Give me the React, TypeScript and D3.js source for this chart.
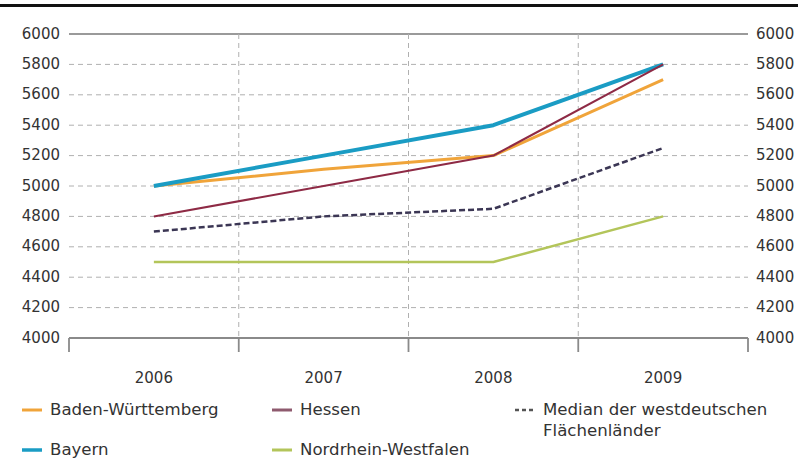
import React from "react";
import * as d3 from "d3";

const years = ["2006", "2007", "2008", "2009"];
const yTicks = [4000, 4200, 4400, 4600, 4800, 5000, 5200, 5400, 5600, 5800, 6000];
const badenWuerttemberg = [5000, 5110, 5200, 5700];
const bayern = [5000, 5200, 5400, 5800];
const hessen = [4800, 5000, 5200, 5800];
const nordrheinWestfalen = [4500, 4500, 4500, 4800];
const median = [4700, 4800, 4850, 5250];

const seriesNames = ["Baden-Württemberg", "Bayern", "Hessen", "Nordrhein-Westfalen", "Median der westdeutschen Flächenländer"];

const W = 798;
const H = 473;
const FONT = "'DejaVu Sans', sans-serif";

export default function App() {
  const x = d3.scaleBand<string>().domain(years).range([69, 748]).padding(0);
  const y = d3.scaleLinear().domain([4000, 6000]).range([338, 34]);
  const cx = (d: string) => (x(d) as number) + x.bandwidth() / 2;
  const line = d3
    .line<number>()
    .x((_, i) => cx(years[i]))
    .y((v) => y(v));

  const boundaries = [...years.map((d) => x(d) as number), 748];

  const series = [
    { name: seriesNames[3], data: nordrheinWestfalen, color: "#b3c55a", w: 2.5, dash: "" },
    { name: seriesNames[4], data: median, color: "#3b3654", w: 2.5, dash: "6,3" },
    { name: seriesNames[0], data: badenWuerttemberg, color: "#f0a43a", w: 3, dash: "" },
    { name: seriesNames[1], data: bayern, color: "#1a9cc4", w: 4, dash: "" },
    { name: seriesNames[2], data: hessen, color: "#8e2a45", w: 2, dash: "" },
  ];

  const legend = [
    { label: [seriesNames[0]], color: "#f0a43a", x: 22, y: 410, w: 3, dash: "" },
    { label: [seriesNames[2]], color: "#8e5a6e", x: 272, y: 410, w: 3, dash: "" },
    { label: ["Median der westdeutschen", "Flächenländer"], color: "#555", x: 515, y: 410, w: 2.5, dash: "4,3" },
    { label: [seriesNames[1]], color: "#1a9cc4", x: 22, y: 450, w: 3.5, dash: "" },
    { label: [seriesNames[3]], color: "#b3c55a", x: 272, y: 450, w: 3, dash: "" },
  ];

  return (
    <svg width={W} height={H} style={{ position: "absolute", left: 0, top: 0, background: "#fff" }} fontFamily={FONT}>
      <rect x={0} y={4} width={W} height={3} fill="#111" />
      {yTicks.map((t) => {
        if (t === 4000) return null;
        return (
          <line
            key={"g" + t}
            x1={69}
            x2={748}
            y1={y(t)}
            y2={y(t)}
            stroke={t === 6000 ? "#9a9a9a" : "#b0b0b0"}
            strokeWidth={t === 6000 ? 1.8 : 1}
            strokeDasharray={t === 6000 ? "" : "5,4"}
          />
        );
      })}
      {boundaries.slice(1, -1).map((b, i) => (
        <line key={"v" + i} x1={b} x2={b} y1={y(6000)} y2={y(4000)} stroke="#b0b0b0" strokeWidth={1} strokeDasharray="5,4" />
      ))}
      <line x1={69} x2={748} y1={y(4000)} y2={y(4000)} stroke="#8a8a8a" strokeWidth={1.8} />
      {boundaries.map((b, i) => (
        <line key={"t" + i} x1={b} x2={b} y1={y(4000)} y2={y(4000) + 14} stroke="#8a8a8a" strokeWidth={1.8} />
      ))}
      {years.map((d) => (
        <text key={d} x={cx(d)} y={378} textAnchor="middle" dominantBaseline="middle" fontSize={15} fill="#333">
          {d}
        </text>
      ))}
      {yTicks.map((t) => (
        <g key={"l" + t}>
          <text x={60} y={y(t)} textAnchor="end" dominantBaseline="middle" fontSize={15} fill="#333">
            {t}
          </text>
          <text x={756} y={y(t)} textAnchor="start" dominantBaseline="middle" fontSize={15} fill="#333">
            {t}
          </text>
        </g>
      ))}
      {series.map((s) => (
        <path
          key={s.name}
          d={line(s.data) as string}
          fill="none"
          stroke={s.color}
          strokeWidth={s.w}
          strokeDasharray={s.dash}
          strokeLinejoin="round"
        />
      ))}
      {legend.map((l, i) => (
        <g key={"lg" + i}>
          <line x1={l.x} x2={l.x + 20} y1={l.y} y2={l.y} stroke={l.color} strokeWidth={l.w} strokeDasharray={l.dash} />
          {l.label.map((t, j) => (
            <text key={j} x={l.x + 28} y={l.y + j * 21} dominantBaseline="middle" fontSize={16.6} fill="#333">
              {t}
            </text>
          ))}
        </g>
      ))}
    </svg>
  );
}
